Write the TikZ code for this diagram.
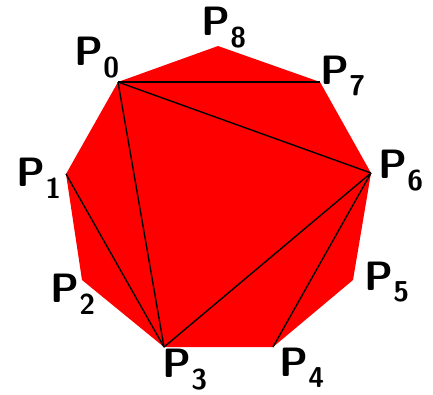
\documentclass[tikz,border=0pt]{standalone}
\usepackage{tikz}
\tikzset{
  polyfill/.style={fill=red, draw=none},
  diagonal/.style={draw=black, line width=1.4pt},
  vlabel/.style={font=\fontsize{41}{45}\selectfont\sffamily\bfseries, inner sep=0pt}
}
\begin{document}
\begin{tikzpicture}[x=1pt, y=-1pt]
  \useasboundingbox (0,0) rectangle (433,394);
  \coordinate (p0) at (118,82);
  \coordinate (p1) at (66,174);
  \coordinate (p2) at (82,280);
  \coordinate (p3) at (164,347);
  \coordinate (p4) at (273,347);
  \coordinate (p5) at (353,280);
  \coordinate (p6) at (371,173);
  \coordinate (p7) at (320,82);
  \coordinate (p8) at (218,46);
  \fill[polyfill] (p0) -- (p1) -- (p2) -- (p3) -- (p4) -- (p5) -- (p6) -- (p7) -- (p8) -- cycle;
  % triangulation
  \draw[diagonal] (p0) -- (p7);
  \draw[diagonal] (p0) -- (p6);
  \draw[diagonal] (p0) -- (p3);
  \draw[diagonal] (p1) -- (p3);
  \draw[diagonal] (p3) -- (p6);
  \draw[diagonal] (p4) -- (p6);
  % vertex labels
  \node[vlabel] (l0) at (97,58) {P\textsubscript{0}};
  \node[vlabel] (l1) at (39,178) {P\textsubscript{1}};
  \node[vlabel] (l2) at (73,294) {P\textsubscript{2}};
  \node[vlabel] (l3) at (185,370) {P\textsubscript{3}};
  \node[vlabel] (l4) at (302,368) {P\textsubscript{4}};
  \node[vlabel] (l5) at (387,282) {P\textsubscript{5}};
  \node[vlabel] (l6) at (401,171) {P\textsubscript{6}};
  \node[vlabel] (l7) at (343,76) {P\textsubscript{7}};
  \node[vlabel] (l8) at (224,28) {P\textsubscript{8}};
\end{tikzpicture}
\end{document}
